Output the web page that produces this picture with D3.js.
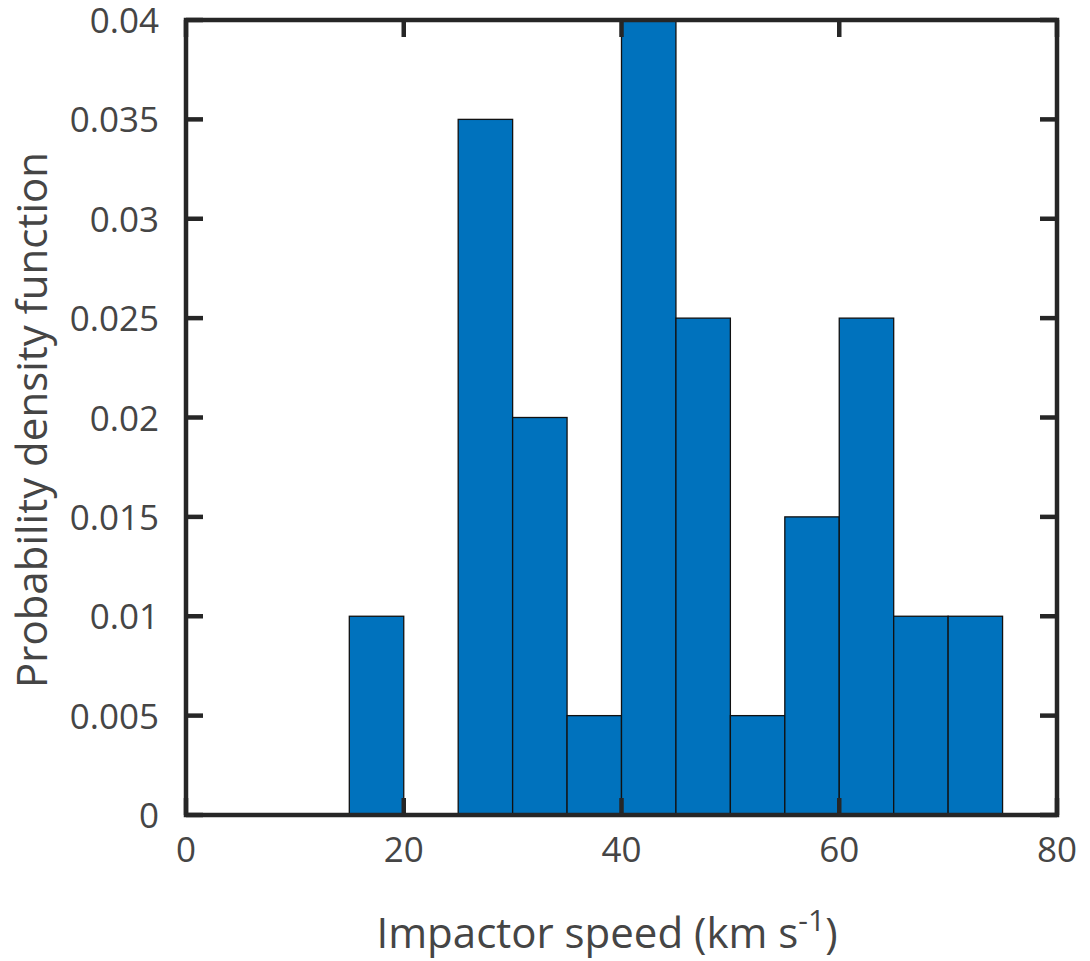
<!DOCTYPE html>
<html><head><meta charset="utf-8">
<script src="https://cdn.jsdelivr.net/npm/d3@7"></script>
<style>body{margin:0;background:#fff;} svg{display:block;}</style>
</head><body>
<svg id="c" width="1090" height="961"></svg>
<script>
const binStarts = [15, 25, 30, 35, 40, 45, 50, 55, 60, 65, 70];
const binWidth = 5;
const density = [0.01, 0.035, 0.02, 0.005, 0.04, 0.025, 0.005, 0.015, 0.025, 0.01, 0.01];
const xTicks = [0, 20, 40, 60, 80];
const yTicks = [0, 0.005, 0.01, 0.015, 0.02, 0.025, 0.03, 0.035, 0.04];
const yTickLabels = ["0", "0.005", "0.01", "0.015", "0.02", "0.025", "0.03", "0.035", "0.04"];

const svg = d3.select("#c");
const L = 186, R = 1057, T = 20, B = 815;
const x = d3.scaleLinear().domain([0, 80]).range([L, R]);
const y = d3.scaleLinear().domain([0, 0.04]).range([B, T]);
const font = "'Open Sans', sans-serif";
const txt = "#454545", axc = "#262626";

// bars
svg.append("g").selectAll("rect").data(binStarts).join("rect")
  .attr("x", (d) => x(d))
  .attr("width", (d) => x(d + binWidth) - x(d))
  .attr("y", (d, i) => y(density[i]))
  .attr("height", (d, i) => y(0) - y(density[i]))
  .attr("fill", "#0072BD")
  .attr("stroke", "#111")
  .attr("stroke-width", 1.3);

const tickLen = 17;
const g = svg.append("g").attr("stroke", axc).attr("stroke-width", 4.5);
// ticks (inward, all four sides)
xTicks.forEach(t => {
  g.append("line").attr("x1", x(t)).attr("x2", x(t)).attr("y1", B).attr("y2", B - tickLen);
  g.append("line").attr("x1", x(t)).attr("x2", x(t)).attr("y1", T).attr("y2", T + tickLen);
});
yTicks.forEach(t => {
  g.append("line").attr("y1", y(t)).attr("y2", y(t)).attr("x1", L).attr("x2", L + tickLen);
  g.append("line").attr("y1", y(t)).attr("y2", y(t)).attr("x1", R).attr("x2", R - tickLen);
});
// box
g.append("rect").attr("x", L).attr("y", T).attr("width", R - L).attr("height", B - T)
  .attr("fill", "none").attr("stroke-linejoin", "miter");

// tick labels
svg.append("g").selectAll("text").data(xTicks).join("text")
  .attr("x", d => x(d)).attr("y", 862)
  .attr("text-anchor", "middle")
  .attr("font-family", font).attr("font-size", 35).attr("fill", txt)
  .text(d => d);
svg.append("g").selectAll("text").data(yTicks).join("text")
  .attr("x", 159).attr("y", d => y(d) + 13)
  .attr("text-anchor", "end")
  .attr("font-family", font).attr("font-size", 35).attr("fill", txt)
  .text((d, i) => yTickLabels[i]);

// axis titles
const xt = svg.append("text").attr("x", 607).attr("y", 948)
  .attr("text-anchor", "middle")
  .attr("font-family", font).attr("font-size", 42).attr("fill", txt);
xt.append("tspan").text("Impactor speed (km s");
xt.append("tspan").attr("dy", -17).attr("font-size", 30).text("-1");
xt.append("tspan").attr("dy", 17).text(")");

svg.append("text")
  .attr("transform", "translate(47,420) rotate(-90)")
  .attr("text-anchor", "middle")
  .attr("font-family", font).attr("font-size", 42).attr("fill", txt)
  .text("Probability density function");
</script>
</body></html>
